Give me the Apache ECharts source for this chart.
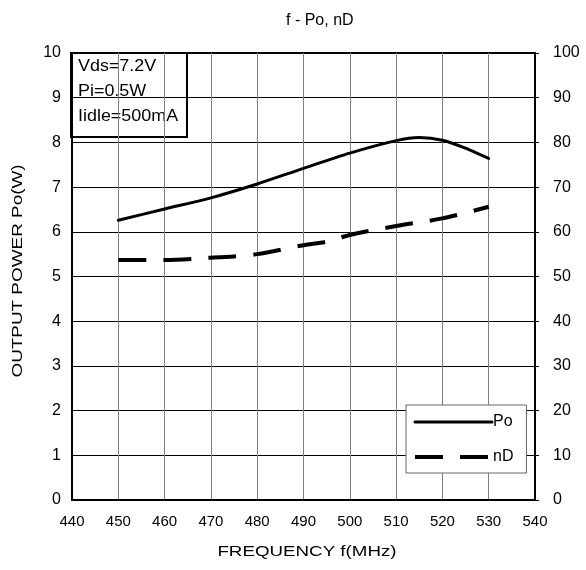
<!DOCTYPE html>
<html><head><meta charset="utf-8">
<script src="https://cdn.jsdelivr.net/npm/echarts@6/dist/echarts.min.js"></script>
<style>html,body{margin:0;padding:0;background:#fff}#c{width:586px;height:570px}</style>
</head><body><div id="c"></div>
<script>
const freqPo = [450, 460, 470, 480, 490, 500, 510, 515, 520, 525, 530];
const po     = [6.26, 6.51, 6.76, 7.07, 7.42, 7.76, 8.04, 8.11, 8.05, 7.87, 7.64];
const freqNd = [450, 460, 470, 475, 480, 490, 495, 500, 510, 520, 530];
const nd     = [53.7, 53.7, 54.2, 54.5, 55.0, 57.0, 57.8, 59.3, 61.3, 63.0, 65.6];
const conditions = ['Vds=7.2V', 'Pi=0.5W', 'Iidle=500mA'];
const titleText = 'f - Po, nD';
const xName = 'FREQUENCY f(MHz)';
const yName = 'OUTPUT POWER Po(W)';
const FONT = 'Liberation Sans, Arial, sans-serif';

const chart = echarts.init(document.getElementById('c'));
chart.setOption({
  backgroundColor: '#fff',
  animation: false,
  textStyle: { fontFamily: FONT, color: '#000' },
  title: {
    text: titleText, left: 281, top: 8,
    textStyle: { fontFamily: FONT, fontSize: 16, fontWeight: 'normal', color: '#000' }
  },
  grid: { left: 72, right: 51, top: 53, bottom: 70, show: true, borderColor: '#000', borderWidth: 2, backgroundColor: 'transparent' },
  xAxis: {
    type: 'value', min: 440, max: 540, interval: 10,
    axisLine: { show: true, lineStyle: { color: '#000', width: 2 } },
    axisTick: { show: false },
    axisLabel: { fontFamily: FONT, fontSize: 15, color: '#000', margin: 14 },
    splitLine: { show: true, lineStyle: { color: '#808080', width: 1 } }
  },
  yAxis: [{
    type: 'value', min: 0, max: 10, interval: 1,
    axisLine: { show: true, lineStyle: { color: '#000', width: 2 } },
    axisTick: { show: false },
    axisLabel: { fontFamily: FONT, fontSize: 16, color: '#000', margin: 11 },
    splitLine: { show: true, lineStyle: { color: '#000', width: 1 } }
  }, {
    type: 'value', min: 0, max: 100, interval: 10, position: 'right',
    axisLine: { show: true, lineStyle: { color: '#000', width: 2 } },
    axisTick: { show: true, inside: false, length: 4, lineStyle: { color: '#000', width: 1 } },
    axisLabel: { fontFamily: FONT, fontSize: 16, color: '#000', margin: 18 },
    splitLine: { show: false }
  }],
  legend: {
    orient: 'vertical', left: 406, top: 405,
    padding: [9, 13, 8, 7], itemGap: 19, itemWidth: 77, itemHeight: 14,
    borderColor: '#666', borderWidth: 1, backgroundColor: '#fff',
    itemStyle: { opacity: 0 },
    lineStyle: { width: 'inherit' },
    textStyle: { fontFamily: FONT, fontSize: 16, lineHeight: 16, color: '#000', padding: [0, 0, 0, -4] },
    data: [{ name: 'Po', lineStyle: { width: 3 } }, { name: 'nD', lineStyle: { width: 4 } }]
  },
  graphic: [{
    type: 'group', x: 71, y: 53,
    children: [
      { type: 'rect', shape: { x: 0, y: 0, width: 116, height: 84 }, style: { fill: '#fff', stroke: '#000', lineWidth: 2 } },
      { type: 'text', x: 7, y: 14, scaleX: 1.12, style: { text: conditions[0], font: '16px ' + FONT, fill: '#000', verticalAlign: 'middle' } },
      { type: 'text', x: 7, y: 39, scaleX: 1.12, style: { text: conditions[1], font: '16px ' + FONT, fill: '#000', verticalAlign: 'middle' } },
      { type: 'text', x: 7, y: 63.5, scaleX: 1.12, style: { text: conditions[2], font: '16px ' + FONT, fill: '#000', verticalAlign: 'middle' } }
    ]
  }, {
    type: 'text', x: 307, y: 552, scaleX: 1.25,
    style: { text: xName, font: '15px ' + FONT, fill: '#000', align: 'center', verticalAlign: 'middle' }
  }, {
    type: 'text', x: 18, y: 271, rotation: Math.PI / 2, scaleX: 1.26,
    style: { text: yName, font: '15px ' + FONT, fill: '#000', align: 'center', verticalAlign: 'middle' }
  }],
  series: [{
    name: 'Po', type: 'line', yAxisIndex: 0, smooth: 0.3, symbol: 'none',
    lineStyle: { color: '#000', width: 3, cap: 'round' }, itemStyle: { color: '#000' },
    data: freqPo.map((f, i) => [f, po[i]])
  }, {
    name: 'nD', type: 'line', yAxisIndex: 1, smooth: 0.3, symbol: 'none',
    lineStyle: { color: '#000', width: 4, type: [28, 17] }, itemStyle: { color: '#000' },
    data: freqNd.map((f, i) => [f, nd[i]])
  }]
});
</script></body></html>
